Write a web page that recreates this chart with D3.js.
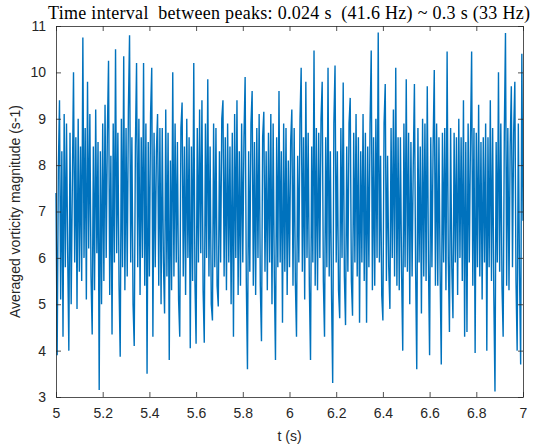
<!DOCTYPE html>
<html>
<head>
<meta charset="utf-8">
<script src="https://cdn.jsdelivr.net/npm/d3@7"></script>
<style>
  body { margin: 0; background: #fff; }
  svg { display: block; }
  .axis text { font-family: "Liberation Sans", Arial, sans-serif; font-size: 14px; fill: #262626; }
  .axis path, .axis line { stroke: #262626; stroke-width: 0.8; }
</style>
</head>
<body>
<div id="graph"></div>
<script>
// averaged vorticity magnitude vs time, sampled every 0.005 s from t = 5 to 7
var t0 = 5, dt = 0.005

// values, 20 per row (0.1 s each)
var vorticity = [
  7.4, 3.9, 7.9, 9.4, 5.1, 8.3, 4.3, 9.1, 5.8, 8.9, 6.1, 4.0, 8.7, 5.0, 7.6, 10.0, 5.9, 8.6, 4.9, 9.0,
  5.7, 8.4, 5.5, 10.75, 6.0, 8.8, 5.1, 9.8, 6.2, 9.1, 5.6, 4.35, 8.4, 5.3, 9.2, 6.1, 8.5, 3.15, 8.3, 5.0,
  8.9, 5.5, 9.3, 6.0, 8.7, 10.25, 5.2, 8.2, 4.35, 8.9, 5.9, 10.5, 6.1, 8.7, 5.4, 3.87, 9.0, 5.8, 10.35, 5.3,
  8.8, 5.6, 9.2, 10.8, 5.9, 8.6, 5.0, 4.1, 8.4, 10.2, 5.8, 9.0, 5.2, 8.6, 6.0, 10.2, 5.4, 8.9, 3.5, 8.5,
  5.6, 9.1, 10.1, 4.3, 8.7, 5.8, 8.3, 9.1, 5.4, 8.8, 5.0, 8.8, 5.9, 4.8, 9.2, 5.6, 8.7, 3.8, 8.1, 5.3,
  10.0, 5.6, 8.9, 5.9, 8.5, 5.1, 4.3, 8.8, 9.35, 5.6, 8.4, 5.2, 9.0, 6.0, 8.6, 4.05, 8.4, 5.5, 10.2, 5.5,
  4.15, 8.8, 5.9, 9.2, 6.1, 9.4, 5.3, 4.17, 8.9, 6.0, 9.85, 5.6, 8.4, 5.0, 4.65, 8.9, 5.8, 8.8, 5.4, 4.95,
  8.3, 5.9, 9.0, 9.4, 5.6, 8.6, 5.3, 8.9, 5.9, 8.4, 5.0, 8.7, 4.3, 9.1, 6.0, 9.4, 5.2, 8.3, 5.4, 8.9,
  5.9, 8.6, 9.9, 5.5, 3.6, 8.3, 5.7, 8.9, 9.6, 5.4, 8.5, 5.2, 8.8, 6.0, 9.1, 5.4, 4.2, 8.6, 9.15, 5.7,
  8.3, 5.3, 8.7, 5.9, 9.1, 5.0, 8.9, 5.6, 3.8, 8.6, 5.8, 9.6, 5.9, 8.3, 4.6, 8.9, 5.7, 8.8, 5.2, 8.1,
  5.8, 8.5, 9.2, 5.4, 8.8, 5.5, 4.3, 8.2, 5.9, 9.0, 10.1, 5.7, 8.6, 5.1, 9.8, 6.0, 8.7, 5.4, 3.8, 8.4,
  5.9, 10.47, 5.4, 8.8, 5.3, 8.7, 6.0, 9.0, 9.8, 5.5, 4.3, 8.6, 5.8, 10.1, 5.6, 8.3, 5.2, 3.3, 8.9, 10.15,
  5.9, 8.3, 5.3, 4.7, 8.8, 6.0, 9.78, 5.6, 4.55, 8.4, 5.7, 8.9, 9.45, 5.5, 4.75, 8.7, 5.9, 9.1, 5.6, 8.6,
  4.6, 8.3, 5.9, 9.1, 5.5, 8.7, 4.6, 8.4, 5.8, 8.9, 10.47, 5.3, 8.6, 5.4, 9.0, 6.0, 10.86, 5.9, 8.2, 5.2,
  4.65, 8.9, 9.75, 5.5, 8.2, 5.8, 4.9, 8.8, 6.0, 9.2, 5.6, 10.1, 5.4, 8.6, 5.3, 8.6, 5.7, 4.0, 8.9, 5.8,
  9.85, 5.7, 8.7, 5.0, 8.5, 5.6, 8.0, 9.75, 5.8, 3.6, 8.8, 5.9, 8.4, 4.8, 9.0, 5.6, 8.9, 5.5, 9.7, 5.9,
  3.9, 8.6, 5.8, 8.4, 10.05, 5.4, 8.9, 5.4, 8.6, 5.7, 3.7, 8.7, 5.9, 8.8, 5.3, 10.45, 6.0, 4.4, 8.8, 5.8,
  4.7, 8.7, 5.9, 8.6, 5.2, 9.0, 6.0, 8.6, 5.5, 9.4, 4.3, 8.5, 4.4, 8.9, 5.9, 8.5, 10.45, 5.4, 8.8, 3.95,
  8.7, 5.8, 9.3, 5.6, 8.5, 5.1, 8.6, 5.9, 8.9, 4.0, 8.6, 5.8, 9.4, 5.5, 8.8, 5.2, 3.12, 8.5, 5.9, 10.0,
  5.7, 8.9, 5.4, 4.3, 8.7, 10.85, 5.4, 8.8, 5.3, 8.4, 9.7, 5.8, 8.7, 9.8, 5.5, 4.0, 8.9, 5.7, 3.7, 10.4,
  6.8
]

// tick values
var xTicks = [5, 5.2, 5.4, 5.6, 5.8, 6, 6.2, 6.4, 6.6, 6.8, 7]
var yTicks = [3, 4, 5, 6, 7, 8, 9, 10, 11]

var W = 540, H = 446
var m = {top: 26, right: 17, bottom: 49, left: 56}
var w = W - m.left - m.right
var h = H - m.top - m.bottom

var x = d3.scaleLinear().domain([5, 7]).range([0, w])
var y = d3.scaleLinear().domain([3, 11]).range([h, 0])

var line = d3.line()
    .x(function (d, i) { return x(t0 + i * dt) })
    .y(function (d) { return y(d) })

var svg = d3.select('#graph').append('svg')
    .attr('width', W)
    .attr('height', H)

var graph = svg.append('g')
    .attr('transform', 'translate(' + m.left + ',' + m.top + ')')

// the data line first, axes drawn on top like matlab's box
graph.append('path')
    .attr('d', line(vorticity))
    .attr('fill', 'none')
    .attr('stroke', '#0072BD')
    .attr('stroke-width', 1.4)
    .attr('stroke-linejoin', 'bevel')

// bottom + left axes with inward ticks
graph.append('g')
    .attr('class', 'axis')
    .attr('transform', 'translate(0,' + h + ')')
    .call(d3.axisBottom(x).tickValues(xTicks).tickFormat(d3.format('~g'))
        .tickSizeInner(-5).tickSizeOuter(0).tickPadding(11))

graph.append('g')
    .attr('class', 'axis')
    .call(d3.axisLeft(y).tickValues(yTicks).tickFormat(d3.format('d'))
        .tickSizeInner(-5).tickSizeOuter(0).tickPadding(10))

// top + right axes, ticks only
graph.append('g')
    .attr('class', 'axis')
    .call(d3.axisTop(x).tickValues(xTicks).tickFormat('')
        .tickSizeInner(-5).tickSizeOuter(0))

graph.append('g')
    .attr('class', 'axis')
    .attr('transform', 'translate(' + w + ',0)')
    .call(d3.axisRight(y).tickValues(yTicks).tickFormat('')
        .tickSizeInner(-5).tickSizeOuter(0))

// axis labels
svg.append('text')
    .attr('x', m.left + w / 2)
    .attr('y', 441)
    .attr('text-anchor', 'middle')
    .style('font-family', '"Liberation Sans", Arial, sans-serif')
    .style('font-size', '14px')
    .style('fill', '#262626')
    .text('t (s)')

svg.append('text')
    .attr('transform', 'translate(20,' + (m.top + h / 2) + ') rotate(-90)')
    .attr('text-anchor', 'middle')
    .style('font-family', '"Liberation Sans", Arial, sans-serif')
    .style('font-size', '14px')
    .style('fill', '#262626')
    .text('Averaged vorticity magnitude (s-1)')

// title
svg.append('text')
    .attr('x', 289)
    .attr('y', 19)
    .attr('text-anchor', 'middle')
    .attr('textLength', 482)
    .attr('lengthAdjust', 'spacing')
    .style('white-space', 'pre')
    .style('font-family', '"Liberation Serif", "Times New Roman", serif')
    .style('font-size', '18px')
    .style('fill', '#000')
    .text('Time interval  between peaks: 0.024 s  (41.6 Hz) ~ 0.3 s (33 Hz)')
</script>
</body>
</html>
